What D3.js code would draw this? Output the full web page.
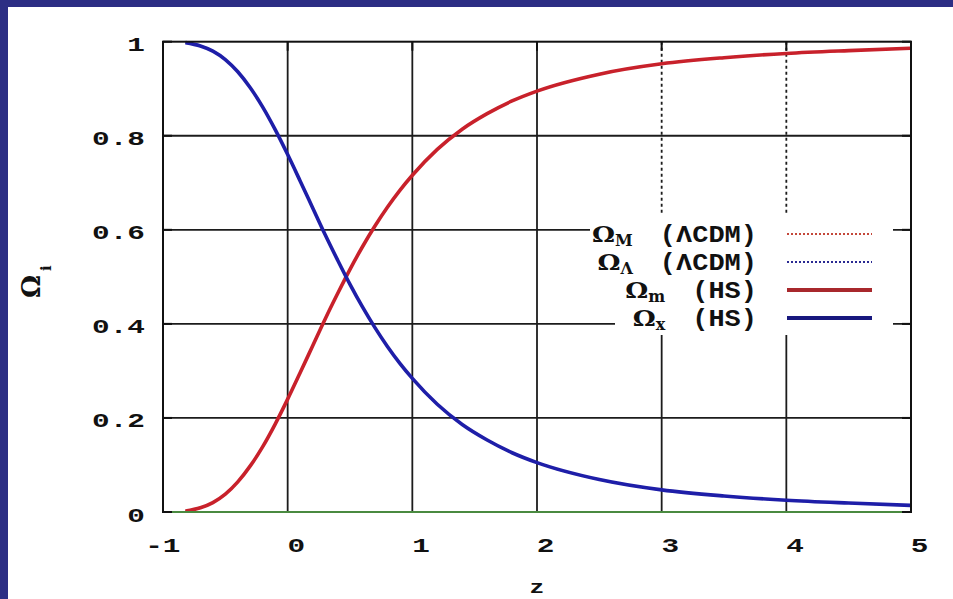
<!DOCTYPE html>
<html>
<head>
<meta charset="utf-8">
<script src="https://cdn.jsdelivr.net/npm/d3@7"></script>
<style>
  html, body { margin: 0; padding: 0; background: #2c2e84; overflow: hidden; }
  svg { display: block; }
</style>
</head>
<body>
<svg id="chart" width="953" height="599"></svg>
<script>
// Redshift samples and density parameters Ω_i(z)
const zValues = [-0.82, -0.7, -0.6, -0.5, -0.4, -0.3, -0.2, -0.1, 0, 0.1, 0.2, 0.3, 0.4, 0.5, 0.6, 0.7, 0.8, 0.9, 1.0, 1.2, 1.4, 1.6, 1.8, 2.0, 2.5, 3.0, 3.5, 4.0, 4.5, 5.0];
const omegaM_LCDM = [0.002, 0.009, 0.020, 0.038, 0.064, 0.098, 0.139, 0.187, 0.240, 0.296, 0.353, 0.410, 0.464, 0.516, 0.564, 0.608, 0.648, 0.684, 0.716, 0.771, 0.814, 0.847, 0.874, 0.895, 0.931, 0.953, 0.966, 0.975, 0.981, 0.986];
const omegaL_LCDM = [0.998, 0.991, 0.980, 0.962, 0.936, 0.902, 0.861, 0.813, 0.760, 0.704, 0.647, 0.590, 0.536, 0.484, 0.436, 0.392, 0.352, 0.316, 0.284, 0.229, 0.186, 0.153, 0.126, 0.105, 0.069, 0.047, 0.034, 0.025, 0.019, 0.014];
const omegaM_HS = [0.002, 0.009, 0.020, 0.038, 0.064, 0.098, 0.139, 0.187, 0.240, 0.296, 0.353, 0.410, 0.464, 0.516, 0.564, 0.608, 0.648, 0.684, 0.716, 0.771, 0.814, 0.847, 0.874, 0.895, 0.931, 0.953, 0.966, 0.975, 0.981, 0.986];
const omegaX_HS = [0.998, 0.991, 0.980, 0.962, 0.936, 0.902, 0.861, 0.813, 0.760, 0.704, 0.647, 0.590, 0.536, 0.484, 0.436, 0.392, 0.352, 0.316, 0.284, 0.229, 0.186, 0.153, 0.126, 0.105, 0.069, 0.047, 0.034, 0.025, 0.019, 0.014];

const xTicks = [-1, 0, 1, 2, 3, 4, 5];
const xTickLabels = ["-1", "0", "1", "2", "3", "4", "5"];
const yTicks = [0, 0.2, 0.4, 0.6, 0.8, 1];
const yTickLabels = ["0", "0.2", "0.4", "0.6", "0.8", "1"];

const seriesNames = ["omegaM_LCDM", "omegaL_LCDM", "omegaM_HS", "omegaX_HS"];
const legendSymbols = ["Ω", "Ω", "Ω", "Ω"];
const legendSubs = ["M", "Λ", "m", "x"];
const legendNotes = ["(ΛCDM)", "(ΛCDM)", "(HS)", "(HS)"];

const xTitle = "z";
const yTitle = "Ω";
const yTitleSub = "i";

// ---- layout & styles ----
const W = 953, H = 599;
const plot = { left: 163, right: 911, top: 41.7, bottom: 512 };
const MONO = "'Liberation Mono', 'Courier New', monospace";
const SERIF = "'DejaVu Serif', 'Liberation Serif', serif";

const styles = {
  omegaM_LCDM: { color: "#c4473a", width: 2, dash: "2,2" },
  omegaL_LCDM: { color: "#2a2a92", width: 2, dash: "2,2" },
  omegaM_HS:   { color: "#c8212b", width: 3.6, dash: null, legendColor: "#a8282c", legendWidth: 4 },
  omegaX_HS:   { color: "#1e1ea8", width: 3.6, dash: null, legendColor: "#18187e", legendWidth: 4 }
};
const seriesData = { omegaM_LCDM, omegaL_LCDM, omegaM_HS, omegaX_HS };

const svg = d3.select("#chart");

// page frame
svg.append("rect").attr("x", 0).attr("y", 0).attr("width", W).attr("height", H).attr("fill", "#2c2e84");
svg.append("rect").attr("x", 8).attr("y", 7).attr("width", W - 8).attr("height", H - 7).attr("fill", "#ffffff");

const x = d3.scaleLinear().domain([-1, 5]).range([plot.left, plot.right]);
const y = d3.scaleLinear().domain([0, 1]).range([plot.bottom, plot.top]);

// key box region (grid is hidden behind it)
const keyBoxes = [
  { x0: 590, x1: 893, y0: 213, y1: 276 },
  { x0: 615, x1: 893, y0: 276, y1: 335 }
];
const keyTop = 213, keyBottom = 335, keyLeft = 590, keyRight = 893;

// ---- grid ----
const grid = svg.append("g").attr("stroke", "#1c1c1c").attr("stroke-width", 1.8).attr("fill", "none");
xTicks.slice(1, -1).forEach(t => {
  const px = x(t);
  if (px > keyLeft && px < keyRight) {
    grid.append("line").attr("x1", px).attr("x2", px).attr("y1", plot.top).attr("y2", keyTop)
      .attr("stroke-dasharray", "3,3");
    grid.append("line").attr("x1", px).attr("x2", px).attr("y1", keyBottom).attr("y2", plot.bottom);
  } else {
    grid.append("line").attr("x1", px).attr("x2", px).attr("y1", plot.top).attr("y2", plot.bottom);
  }
});
yTicks.slice(1, -1).forEach(t => {
  grid.append("line").attr("x1", plot.left).attr("x2", plot.right).attr("y1", y(t)).attr("y2", y(t));
});

// ---- curves ----
const line = d3.line().x(d => x(d[0])).y(d => y(d[1])).curve(d3.curveMonotoneX);
seriesNames.forEach(name => {
  const st = styles[name];
  const pts = zValues.map((z, i) => [z, seriesData[name][i]]);
  svg.append("path").datum(pts).attr("d", line)
    .attr("fill", "none").attr("stroke", st.color).attr("stroke-width", st.width)
    .attr("stroke-linejoin", "round")
    .attr("stroke-dasharray", st.dash);
});

// ---- key background ----
keyBoxes.forEach(b => {
  svg.append("rect").attr("x", b.x0).attr("y", b.y0).attr("width", b.x1 - b.x0).attr("height", b.y1 - b.y0)
    .attr("fill", "#ffffff");
});

// ---- border, zero line, ticks ----
svg.append("rect").attr("x", plot.left).attr("y", plot.top)
  .attr("width", plot.right - plot.left).attr("height", plot.bottom - plot.top)
  .attr("fill", "none").attr("stroke", "#111").attr("stroke-width", 2);
svg.append("line").attr("x1", x(-1)).attr("x2", x(5)).attr("y1", y(0)).attr("y2", y(0))
  .attr("stroke", "#4a8a40").attr("stroke-width", 1.8);

const tickG = svg.append("g").attr("stroke", "#111").attr("stroke-width", 2);
yTicks.forEach(t => {
  tickG.append("line").attr("x1", plot.right - 9).attr("x2", plot.right).attr("y1", y(t)).attr("y2", y(t));
  tickG.append("line").attr("x1", plot.left).attr("x2", plot.left + 9).attr("y1", y(t)).attr("y2", y(t));
});
xTicks.forEach(t => {
  tickG.append("line").attr("x1", x(t)).attr("x2", x(t)).attr("y1", plot.top).attr("y2", plot.top + 9);
});

// ---- axes labels ----
const sx = 1.4;
const yAxis = d3.axisLeft(y).tickValues(yTicks).tickFormat((d, i) => yTickLabels[i]).tickSize(0).tickPadding(0);
const yg = svg.append("g").attr("transform", `translate(${plot.left},0)`).call(yAxis);
yg.select(".domain").remove();
yg.selectAll("text")
  .attr("x", -18 / sx).attr("y", 9).attr("dy", null)
  .attr("transform", `scale(${sx},1)`)
  .attr("text-anchor", "end")
  .attr("fill", "#111").attr("font-family", MONO).attr("font-weight", "bold").attr("font-size", 21);

const xAxis = d3.axisBottom(x).tickValues(xTicks).tickFormat((d, i) => xTickLabels[i]).tickSize(0).tickPadding(0);
const xg = svg.append("g").attr("transform", `translate(0,${plot.bottom})`).call(xAxis);
xg.select(".domain").remove();
xg.selectAll("text")
  .attr("x", 17 / sx).attr("y", 40).attr("dy", null)
  .attr("transform", `scale(${sx},1)`)
  .attr("text-anchor", "end")
  .attr("fill", "#111").attr("font-family", MONO).attr("font-weight", "bold").attr("font-size", 21);
svg.selectAll(".tick line").remove();

// axis titles
svg.append("g").attr("transform", `translate(${(plot.left + plot.right) / 2},593) scale(1.3,1)`)
  .append("text").attr("text-anchor", "middle")
  .attr("font-family", MONO).attr("font-weight", "bold").attr("font-size", 19).attr("fill", "#111")
  .text(xTitle);

const yt = svg.append("g").attr("transform", "translate(40,298) rotate(-90)");
yt.append("text").attr("x", 0).attr("y", 0)
  .attr("font-family", SERIF).attr("font-weight", "bold").attr("font-size", 26).attr("fill", "#111")
  .text(yTitle);
yt.append("text").attr("x", 27).attr("y", 11)
  .attr("font-family", SERIF).attr("font-weight", "bold").attr("font-size", 15).attr("fill", "#111")
  .text(yTitleSub);

// ---- key ----
const keyTextRight = 757;
const keySampleX0 = 787, keySampleX1 = 872;
const lsx = 1.125;
seriesNames.forEach((name, i) => {
  const base = 242 + i * 28;
  const row = svg.append("g").attr("transform", `translate(0,${base})`);
  const noteG = row.append("g").attr("transform", `translate(${keyTextRight},0) scale(${lsx},1)`);
  const note = noteG.append("text").attr("text-anchor", "end")
    .attr("font-family", MONO).attr("font-weight", "bold").attr("font-size", 24).attr("fill", "#111")
    .text(legendNotes[i]);
  const noteStart = keyTextRight - note.node().getComputedTextLength() * lsx;
  const subEnd = noteStart - 27;
  const sub = row.append("text").attr("x", subEnd).attr("y", 4).attr("text-anchor", "end")
    .attr("font-family", SERIF).attr("font-weight", "bold").attr("font-size", 16).attr("fill", "#111")
    .text(legendSubs[i]);
  const subStart = subEnd - sub.node().getComputedTextLength();
  row.append("g").attr("transform", `translate(${subStart},0) scale(${lsx},1)`)
    .append("text").attr("text-anchor", "end")
    .attr("font-family", SERIF).attr("font-weight", "bold").attr("font-size", 23).attr("fill", "#111")
    .text(legendSymbols[i]);

  const st = styles[name];
  row.append("line").attr("x1", keySampleX0).attr("x2", keySampleX1).attr("y1", -8).attr("y2", -8)
    .attr("stroke", st.legendColor || st.color)
    .attr("stroke-width", st.legendWidth || st.width)
    .attr("stroke-dasharray", st.dash);
});
</script>
</body>
</html>
